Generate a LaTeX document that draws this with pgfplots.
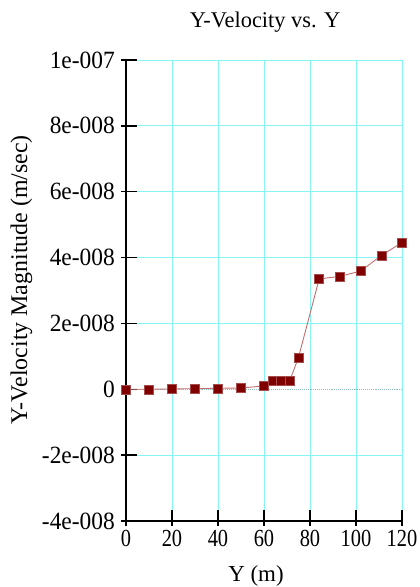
\documentclass[border=0pt]{standalone}
\usepackage{graphicx}
\usepackage{pgfplots}
\pgfplotsset{compat=1.18}
\usepackage{fontspec}
\setmainfont{Liberation Serif}
\definecolor{gridc}{RGB}{135,245,245}
\definecolor{zeroc}{RGB}{140,190,195}
\definecolor{mk}{RGB}{128,0,0}
\definecolor{ln}{RGB}{195,110,110}
\newcommand{\xl}[1]{\scalebox{1}[1.2]{#1}}
\newcommand{\yl}[1]{\scalebox{1}[1.06]{#1}}
\pgfplotstableread{
x y
0 0
10 0
20 0.01e-8
30 0.02e-8
40 0.03e-8
50 0.04e-8
60 0.1e-8
63.75 0.25e-8
67.5 0.26e-8
71.25 0.27e-8
75 0.97e-8
84 3.35e-8
93 3.43e-8
102 3.59e-8
111 4.06e-8
120 4.46e-8
}\datatable
\begin{document}
\begin{tikzpicture}
\useasboundingbox (-126bp,-66bp) rectangle (294bp,521bp);
\begin{axis}[
  scale only axis, width=276bp, height=461bp,
  xmin=0, xmax=120, ymin=-4e-8, ymax=1e-7,
  clip=false,
  axis x line*=bottom, axis y line*=left,
  axis line style={line width=1.6bp,-,black},
  xtick={0,20,...,120},
  xticklabels={\xl{0},\xl{20},\xl{40},\xl{60},\xl{80},\xl{100},\xl{120}},
  ytick={-4e-8,-2e-8,2e-8,4e-8,6e-8,8e-8,1e-7},
  yticklabels={\yl{-4e-008},\yl{-2e-008},\yl{2e-008},\yl{4e-008},\yl{6e-008},\yl{8e-008},\yl{1e-007}},
  extra y ticks={0},
  extra y tick labels={\yl{0}},
  extra y tick style={major grid style={zeroc, line width=1.1bp, densely dotted}},
  scaled y ticks=false,
  grid=major,
  major grid style={gridc, line width=0.9bp},
  tick align=inside,
  major tick length=16bp,
  xtick style={black, line width=1.4bp, yshift=-5bp},
  ytick style={black, line width=1.4bp, xshift=-5bp},
  yticklabel style={font=\fontsize{23.5}{27}\selectfont, anchor=east, inner sep=0pt, xshift=-11bp},
  xticklabel style={font=\fontsize{20.5}{25}\selectfont, anchor=north, inner sep=0pt, yshift=-9bp},
  xlabel={Y (m)},
  ylabel={Y-Velocity Magnitude (m/sec)},
  xlabel style={font=\fontsize{23}{27}\selectfont, at={(axis description cs:0.471,-0.119)}, anchor=center},
  ylabel style={font=\fontsize{24}{28}\selectfont, at={(axis description cs:-0.379,0.523)}, anchor=center},
  title={Y-Velocity vs. Y},
  title style={font=\fontsize{22.5}{27}\selectfont, at={(axis description cs:0.504,1.069)}, anchor=center},
]
\addplot[color=ln, line width=0.9bp, mark=square*, mark size=4.5bp,
  mark options={fill=mk, draw=mk!70!white, line width=0.5bp, solid}] table[x=x,y=y] {\datatable};
\end{axis}
\end{tikzpicture}
\end{document}
